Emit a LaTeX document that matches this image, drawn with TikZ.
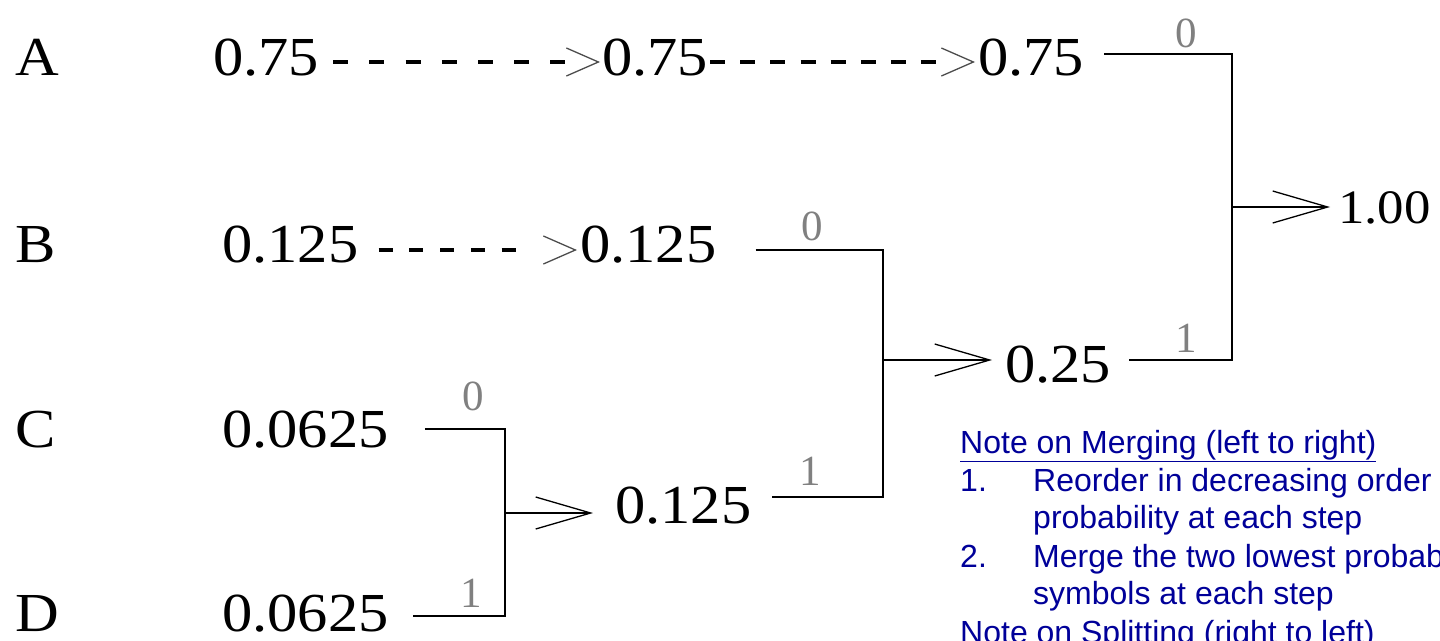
\documentclass[tikz,border=0pt]{standalone}
\usepackage{fontspec}
\usepackage{graphicx}
\setmainfont{Liberation Serif}
\newfontfamily\notefont{Liberation Sans}
\usetikzlibrary{arrows.meta,calc}
\definecolor{noteblue}{RGB}{0,0,153}
\definecolor{lblgray}{RGB}{128,128,128}
\newcommand{\wide}[1]{\scalebox{1.1}[1]{#1}}
\begin{document}
\begin{tikzpicture}[x=1pt,y=-1pt,
  num/.style={inner sep=0pt, anchor=base west, font=\fontsize{55}{60}\selectfont},
  lbl/.style={inner sep=0pt, anchor=base, font=\fontsize{43}{48}\selectfont, text=lblgray},
  note/.style={inner sep=0pt, anchor=base west, font=\notefont\fontsize{32}{37}\selectfont, text=noteblue},
  wire/.style={line width=2.2pt},
  merge/.style={line width=1.8pt, -{Straight Barb[length=55pt,width=32pt,line width=1.3pt]}},
  dots/.style={line width=4.5pt, -{Straight Barb[length=32pt,width=28pt,line width=1.3pt,color=black!70]}}
]
\useasboundingbox (0,0) rectangle (1440,640);
\clip (0,0) rectangle (1440,640);

% symbol letters
\node[num] (lA) at (15,75) {\wide{A}};
\node[num] (lB) at (15,262) {\wide{B}};
\node[num] (lC) at (15,447) {\wide{C}};
\node[num] (lD) at (15,631) {\wide{D}};

% probabilities
\node[num] (a1) at (213,75) {\wide{0.75}};
\node[num] (a2) at (602,75) {\wide{0.75}};
\node[num] (a3) at (978,75) {\wide{0.75}};
\node[num] (b1) at (222,262) {\wide{0.125}};
\node[num] (b2) at (580,262) {\wide{0.125}};
\node[num] (c1) at (222,447) {\wide{0.0625}};
\node[num] (d1) at (222,631) {\wide{0.0625}};
\node[num] (cd) at (615,523) {\wide{0.125}};
\node[num] (bcd) at (1005,382) {\wide{0.25}};
\node[num, font=\fontsize{48}{52}\selectfont] (all) at (1338,223) {\wide{1.00}};

% dashed carry-over connectors
\draw[dots, dash pattern=on 15pt off 21.2pt on 15pt off 21.2pt on 15pt off 21.2pt on 15pt off 21.2pt on 15pt off 21.2pt on 15pt off 21.2pt on 15pt off 200pt]
  ($(a1.base east)+(14,-13)$) -- ($(a2.base west)+(-2,-13)$);
\draw[dots, dash pattern=on 15pt off 15.1pt on 15pt off 15.1pt on 15pt off 15.1pt on 15pt off 15.1pt on 15pt off 15.1pt on 15pt off 15.1pt on 15pt off 15.1pt on 15pt off 200pt]
  ($(a2.base east)+(2,-13)$) -- ($(a3.base west)+(-3,-13)$);
\draw[dots, dash pattern=on 14pt off 16.75pt on 14pt off 16.75pt on 14pt off 16.75pt on 14pt off 16.75pt on 14pt off 200pt]
  ($(b1.base east)+(20,-12)$) -- ($(b2.base west)+(-3,-12)$);

% junction points
\coordinate (vCt) at (505,429);
\coordinate (vCb) at (505,616);
\coordinate (vCm) at (505,513);
\coordinate (vBt) at (883,250);
\coordinate (vBb) at (883,497);
\coordinate (vBm) at (883,360);
\coordinate (vAt) at (1232,54);
\coordinate (vAb) at (1232,360);
\coordinate (vAm) at (1232,207);

% merge brackets
\draw[wire] ($(c1.base east)+(36,-18)$) -- (vCt) -- (vCb) -- ($(d1.base east)+(24,-15)$);
\draw[merge] (vCm) -- ($(cd.base west)+(-22,-10)$);
\draw[wire] ($(b2.base east)+(39,-12)$) -- (vBt) -- (vBb) -- ($(cd.base east)+(20,-26)$);
\draw[merge] (vBm) -- ($(bcd.base west)+(-13,-22)$);
\draw[wire] ($(a3.base east)+(20,-21)$) -- (vAt) -- (vAb) -- ($(bcd.base east)+(18,-22)$);
\draw[merge] (vAm) -- ($(all.base west)+(-8,-16)$);

% branch labels
\node[lbl] (l0A) at (1186,47) {0};
\node[lbl] (l1A) at (1186,352) {1};
\node[lbl] (l0B) at (812,240) {0};
\node[lbl] (l1B) at (810,485) {1};
\node[lbl] (l0C) at (473,410) {0};
\node[lbl] (l1D) at (471,607) {1};

% notes
\node[note] (n0) at (960,453) {\underline{Note on Merging (left to right)}};
\node[note] (n1) at (960,491) {1.};
\node[note] (n1t) at (1033,491) {Reorder in decreasing order of};
\node[note] (n1u) at (1033,528) {probability at each step};
\node[note] (n2) at (960,567) {2.};
\node[note] (n2t) at (1033,567) {Merge the two lowest probability};
\node[note] (n2u) at (1033,604) {symbols at each step};
\node[note] (n3) at (960,643) {\underline{Note on Splitting (right to left)}};
\end{tikzpicture}
\end{document}
